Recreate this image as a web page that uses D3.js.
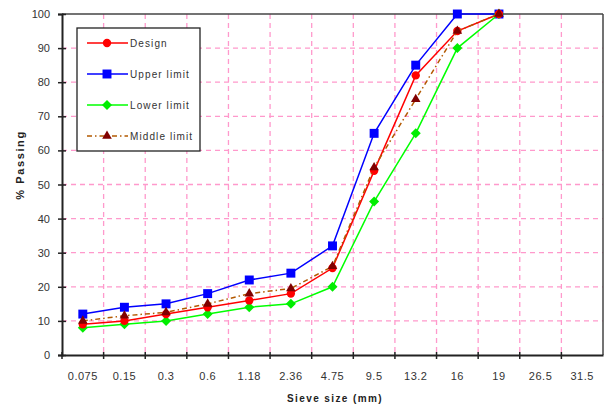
<!DOCTYPE html>
<html>
<head>
<meta charset="utf-8">
<script src="https://cdn.jsdelivr.net/npm/d3@7"></script>
<style>
  body { margin: 0; background: #fff; }
  text { font-family: "Liberation Sans", Arial, sans-serif; }
</style>
</head>
<body>
<div id="chart"></div>
<script>
// sieve sizes (mm) on the x axis
const sieveSizes = ["0.075", "0.15", "0.3", "0.6", "1.18", "2.36", "4.75", "9.5", "13.2", "16", "19", "26.5", "31.5"];
const yTicks = [0, 10, 20, 30, 40, 50, 60, 70, 80, 90, 100];

// % passing for each curve (first 11 sieves)
const design = [9, 10, 12, 14, 16, 18, 25.5, 54, 82, 95, 100];
const upperLimit = [12, 14, 15, 18, 22, 24, 32, 65, 85, 100, 100];
const lowerLimit = [8, 9, 10, 12, 14, 15, 20, 45, 65, 90, 100];
const middleLimit = [10, 11.5, 12.5, 15, 18, 19.5, 26, 55, 75, 95, 100];

const width = 606, height = 407;
const plotLeft = 62, plotRight = 603, plotTop = 14, plotBottom = 355;

const svg = d3.select("#chart").append("svg")
    .attr("width", width)
    .attr("height", height);

const x = d3.scaleBand().domain(sieveSizes).range([plotLeft, plotRight]);
const y = d3.scaleLinear().domain([0, 100]).range([plotBottom, plotTop]);
const cx = d => x(d) + x.bandwidth() / 2;

// grid
const grid = svg.append("g")
    .attr("stroke", "#ff99cc")
    .attr("stroke-width", 1.3)
    .attr("stroke-dasharray", "5,4");
grid.selectAll("line.h")
    .data(yTicks.filter(v => v > 0 && v < 100))
    .enter().append("line")
    .attr("x1", plotLeft).attr("x2", plotRight)
    .attr("y1", d => y(d)).attr("y2", d => y(d));
grid.selectAll("line.v")
    .data(sieveSizes.slice(1))
    .enter().append("line")
    .attr("x1", d => x(d)).attr("x2", d => x(d))
    .attr("y1", plotTop).attr("y2", plotBottom);

// frame
svg.append("line").attr("x1", plotLeft).attr("x2", plotRight).attr("y1", plotTop).attr("y2", plotTop)
    .attr("stroke", "#444").attr("stroke-width", 1.5);
svg.append("line").attr("x1", plotRight).attr("x2", plotRight).attr("y1", plotTop).attr("y2", plotBottom)
    .attr("stroke", "#444").attr("stroke-width", 1.5);

// axes
const yAxis = d3.axisLeft(y).tickValues(yTicks).tickSize(4).tickPadding(8);
const gy = svg.append("g").attr("transform", `translate(${plotLeft},0)`).call(yAxis);
const xAxis = d3.axisBottom(x).tickSize(0).tickPadding(17);
const gx = svg.append("g").attr("transform", `translate(0,${plotBottom})`).call(xAxis);

[gx, gy].forEach(g => {
    g.select(".domain").attr("stroke", "#222").attr("stroke-width", 2);
    g.selectAll("text").attr("font-size", 11).attr("fill", "#333")
        .style("font-family", "'Liberation Sans', Arial, sans-serif");
});
gx.selectAll("text").attr("letter-spacing", 0.5);
gy.selectAll(".tick line").attr("x2", 4).attr("x1", -4).attr("stroke", "#222").attr("stroke-width", 1.5);

// x ticks at band boundaries
svg.append("g").selectAll("line")
    .data(sieveSizes)
    .enter().append("line")
    .attr("x1", d => x(d)).attr("x2", d => x(d))
    .attr("y1", plotBottom - 3).attr("y2", plotBottom + 4)
    .attr("stroke", "#222").attr("stroke-width", 1.5);

// axis titles
svg.append("text")
    .attr("x", 335).attr("y", 402)
    .attr("text-anchor", "middle")
    .attr("font-size", 10).attr("font-weight", "bold").attr("fill", "#222")
    .attr("letter-spacing", 1.4)
    .text("Sieve size (mm)");
svg.append("text")
    .attr("transform", "translate(24,165) rotate(-90)")
    .attr("text-anchor", "middle")
    .attr("font-size", 11).attr("font-weight", "bold").attr("fill", "#222")
    .attr("letter-spacing", 1.6)
    .text("% Passing");

// series
const series = [
    { name: "Upper limit", values: upperLimit, color: "#0000ff", dash: null, marker: d3.symbolSquare, rot: 0, mcolor: "#0000ff", msize: 80 },
    { name: "Lower limit", values: lowerLimit, color: "#00ff00", dash: null, marker: d3.symbolSquare, rot: 45, mcolor: "#00ee00", msize: 50 },
    { name: "Design", values: design, color: "#ff0000", dash: null, marker: d3.symbolCircle, rot: 0, mcolor: "#ff0000", msize: 55 },
    { name: "Middle limit", values: middleLimit, color: "#b35900", dash: "5,3,1.5,3", marker: d3.symbolTriangle, rot: 0, mcolor: "#800000", msize: 40 }
];

const line = d3.line()
    .x((d, i) => cx(sieveSizes[i]))
    .y(d => y(d));

series.forEach(s => {
    svg.append("path")
        .datum(s.values)
        .attr("d", line)
        .attr("fill", "none")
        .attr("stroke", s.color)
        .attr("stroke-width", 1.5)
        .attr("stroke-dasharray", s.dash);
    svg.append("g").selectAll("path")
        .data(s.values)
        .enter().append("path")
        .attr("transform", (d, i) => `translate(${cx(sieveSizes[i])},${y(d)}) rotate(${s.rot})`)
        .attr("d", d3.symbol().type(s.marker).size(s.msize))
        .attr("fill", s.mcolor);
});

// legend
const legendOrder = ["Design", "Upper limit", "Lower limit", "Middle limit"];
const legend = svg.append("g");
legend.append("rect")
    .attr("x", 77).attr("y", 28).attr("width", 123).attr("height", 123)
    .attr("fill", "#fff").attr("stroke", "#222").attr("stroke-width", 1.3);
legendOrder.forEach((name, i) => {
    const s = series.find(t => t.name === name);
    const ly = 43 + i * 31;
    legend.append("line")
        .attr("x1", 87).attr("x2", 128).attr("y1", ly).attr("y2", ly)
        .attr("stroke", s.color).attr("stroke-width", 1.5)
        .attr("stroke-dasharray", s.dash);
    legend.append("path")
        .attr("transform", `translate(107,${ly}) rotate(${s.rot})`)
        .attr("d", d3.symbol().type(s.marker).size(s.msize))
        .attr("fill", s.mcolor);
    legend.append("text")
        .attr("x", 130).attr("y", ly + 3.5)
        .attr("font-size", 10).attr("fill", "#333")
        .attr("letter-spacing", 1.1)
        .text(name);
});
</script>
</body>
</html>
